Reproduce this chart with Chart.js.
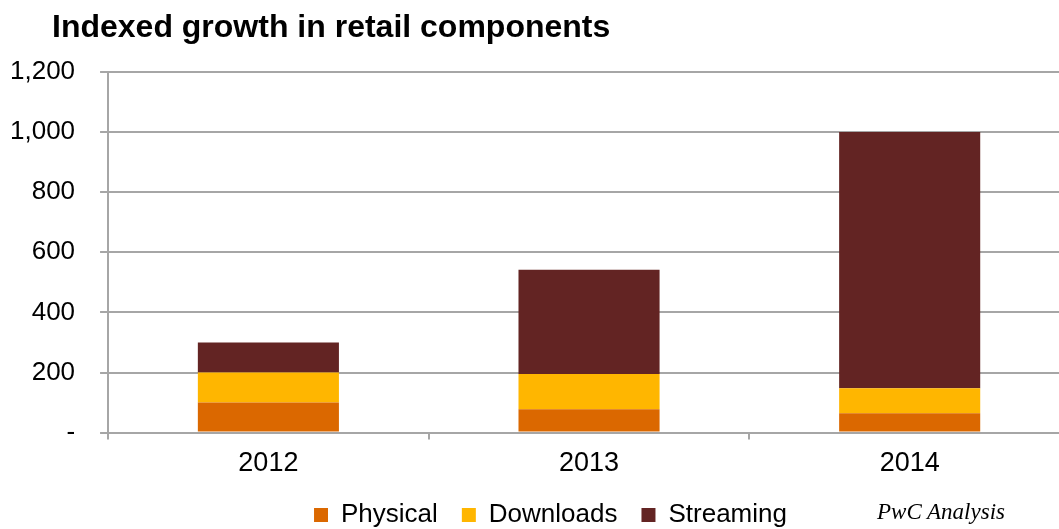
<!DOCTYPE html>
<html>
<head>
<meta charset="utf-8">
<script src="https://cdn.jsdelivr.net/npm/chart.js@4/dist/chart.umd.min.js"></script>
<style>
  html, body { margin: 0; padding: 0; background: #fff; overflow: hidden; }
  #wrap { position: relative; width: 1059px; height: 529px; overflow: hidden; }
  #box { position: absolute; left: -24px; top: 0; width: 1124px; height: 551px; }
  #title { position: absolute; left: 52px; top: 10px; font: bold 32px/1 "Liberation Sans", Arial, sans-serif; color: #000; white-space: nowrap; }
  #source { position: absolute; left: 877px; top: 500px; font: italic 23px/1 "Liberation Serif", "DejaVu Serif", serif; color: #000; white-space: nowrap; }
</style>
</head>
<body>
<div id="wrap">
  <div id="box"><canvas id="c" width="1124" height="551"></canvas></div>
  <div id="title">Indexed growth in retail components</div>
  <div id="source">PwC Analysis</div>
</div>
<script>
// Index values per component, by year
const years = ['2012', '2013', '2014'];
const physical = [100, 78, 64];
const downloads = [100, 117, 84];
const streaming = [100, 347, 852];
const yTicks = [0, 200, 400, 600, 800, 1000, 1200];

const font = 'Liberation Sans, Arial, sans-serif';
const gridColor = '#a6a6a6';

// Nudge the legend row after layout
const legendShift = {
  id: 'legendShift',
  afterLayout(chart) {
    const lg = chart.legend;
    if (lg) { lg.left += 23; lg.right += 23; lg.top -= 10; lg.bottom -= 10; }
  }
};

new Chart(document.getElementById('c'), {
  type: 'bar',
  data: {
    labels: years,
    datasets: [
      { label: 'Physical', data: physical, backgroundColor: '#DB6800' },
      { label: 'Downloads', data: downloads, backgroundColor: '#FFB600' },
      { label: 'Streaming', data: streaming, backgroundColor: '#632423' }
    ]
  },
  plugins: [legendShift],
  options: {
    responsive: false,
    animation: false,
    devicePixelRatio: 1,
    layout: { padding: { top: 72, right: 30, left: 9, bottom: 3 } },
    datasets: { bar: { categoryPercentage: 1, barPercentage: 0.44, borderWidth: 0 } },
    scales: {
      x: {
        stacked: true,
        offset: true,
        border: { display: false },
        grid: { offset: true, drawOnChartArea: false, drawTicks: true, tickLength: 7, color: gridColor, lineWidth: 2 },
        ticks: { color: '#000', font: { family: font, size: 27 }, padding: 8 }
      },
      y: {
        stacked: true,
        min: 0,
        max: 1200,
        afterBuildTicks: (axis) => { axis.ticks = yTicks.map(v => ({ value: v })); },
        border: { display: true, color: gridColor, width: 2 },
        grid: { color: gridColor, lineWidth: 2, tickLength: 8 },
        ticks: {
          color: '#000',
          font: { family: font, size: 26 },
          padding: 25,
          callback: (v) => v === 0 ? '-' : v.toLocaleString('en-US')
        }
      }
    },
    plugins: {
      legend: {
        position: 'bottom',
        labels: {
          boxWidth: 14, boxHeight: 14, padding: 24,
          color: '#000',
          font: { family: font, size: 26 }
        }
      },
      tooltip: { enabled: false }
    }
  }
});
</script>
</body>
</html>
